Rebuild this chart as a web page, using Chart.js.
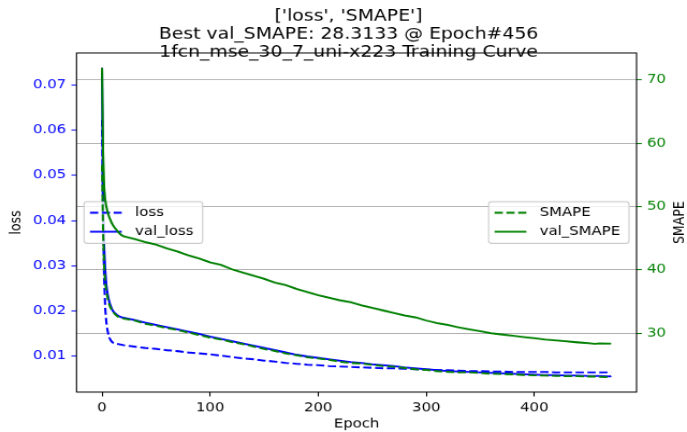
<!DOCTYPE html>
<html><head><meta charset="utf-8">
<script src="https://cdn.jsdelivr.net/npm/chart.js@4.4.1/dist/chart.umd.min.js"></script>
<style>html,body{margin:0;padding:0;background:#fff;overflow:hidden}</style>
</head><body>
<canvas id="c" width="640" height="480" style="display:block;width:687px;height:432px"></canvas>
<script>
const titleLines = ["['loss', 'SMAPE']", "Best val_SMAPE: 28.3133 @ Epoch#456", "1fcn_mse_30_7_uni-x223 Training Curve"];
const epochs = [0,1,2,3,4,5,6,7,8,9,10,12,14,16,18,20,30,40,50,60,70,80,90,100,110,120,130,140,150,160,170,180,190,200,210,220,230,240,250,260,270,280,290,300,310,320,330,340,350,360,370,380,390,400,410,420,430,440,450,456,460,470,471];
const loss = [0.0623,0.0400,0.0270,0.0205,0.0175,0.0158,0.0147,0.0140,0.0135,0.0132,0.0130,0.0128,0.0127,0.0126,0.0125,0.0124,0.0121,0.0118,0.0116,0.0113,0.0111,0.0108,0.0106,0.0104,0.0101,0.0098,0.0095,0.0093,0.0090,0.0088,0.0085,0.0083,0.0081,0.0080,0.0078,0.0077,0.0076,0.0075,0.0074,0.0073,0.0073,0.0072,0.0071,0.0070,0.0069,0.0069,0.0068,0.0067,0.0067,0.0066,0.0066,0.0065,0.0065,0.0065,0.0065,0.0064,0.0064,0.0064,0.0064,0.0064,0.0064,0.0064,0.0064];
const valLoss = [0.0738,0.0450,0.0340,0.0290,0.0258,0.0240,0.0228,0.0218,0.0211,0.0205,0.0200,0.0195,0.0191,0.0188,0.0186,0.0185,0.0180,0.0174,0.0169,0.0164,0.0159,0.0154,0.0149,0.0143,0.0138,0.0133,0.0128,0.0123,0.0118,0.0113,0.0108,0.0103,0.0099,0.0096,0.0093,0.0090,0.0087,0.0085,0.0082,0.0080,0.0078,0.0075,0.0073,0.0071,0.0069,0.0067,0.0066,0.0065,0.0064,0.0063,0.0062,0.0061,0.0060,0.0059,0.0058,0.0058,0.0057,0.0057,0.0056,0.0056,0.0056,0.0055,0.0056];
const smape = [56.6,46.0,40.5,38.0,36.6,35.7,35.0,34.4,34.0,33.7,33.4,33.0,32.7,32.5,32.4,32.3,32.0,31.5,31.2,30.8,30.5,30.1,29.7,29.3,29.0,28.6,28.3,27.9,27.5,27.2,26.8,26.5,26.2,26.0,25.8,25.5,25.3,25.2,25.0,24.8,24.7,24.5,24.3,24.2,24.0,23.9,23.8,23.8,23.7,23.6,23.55,23.5,23.4,23.35,23.3,23.25,23.2,23.2,23.15,23.15,23.1,23.05,23.05];
const valSmape = [71.9,58.5,53.0,51.0,50.0,49.3,48.7,48.2,47.8,47.4,47.1,46.6,46.2,45.8,45.5,45.3,44.9,44.4,44.0,43.4,42.9,42.3,41.8,41.2,40.8,40.1,39.6,39.1,38.6,38.0,37.6,37.0,36.5,36.0,35.6,35.2,34.9,34.4,34.0,33.6,33.2,32.8,32.5,32.0,31.6,31.3,30.9,30.6,30.3,30.0,29.8,29.6,29.4,29.2,29.0,28.85,28.7,28.55,28.42,28.3133,28.40,28.36,28.35];
const lossTicks = [0.01,0.02,0.03,0.04,0.05,0.06,0.07];
const smapeTicks = [30,40,50,60,70];
const epochTicks = [0,100,200,300,400];

const FONT = '"DejaVu Sans", "Liberation Sans", sans-serif';
const FS = 13.9;
const pts = arr => epochs.map((e,i)=>({x:e, y:arr[i]}));
const DASH = [7.7,3.3];

function drawLegend(ctx, x, y, w, h, items){
  ctx.save();
  ctx.beginPath();
  ctx.roundRect(x, y, w, h, 2.8);
  ctx.fillStyle = 'rgba(255,255,255,0.8)';
  ctx.fill();
  ctx.strokeStyle = '#cccccc';
  ctx.lineWidth = 1.1;
  ctx.stroke();
  const rows = [12.2, 33.3];
  items.forEach((it,i)=>{
    const cy = y + rows[i];
    ctx.beginPath();
    ctx.setLineDash(it.dash);
    ctx.strokeStyle = it.color;
    ctx.lineWidth = 2.08;
    ctx.moveTo(x+5.5, cy); ctx.lineTo(x+35.1, cy); ctx.stroke();
    ctx.setLineDash([]);
    ctx.fillStyle = '#000';
    ctx.font = FS + 'px ' + FONT;
    ctx.textBaseline = 'middle';
    ctx.textAlign = 'left';
    ctx.fillText(it.label, x+47.5, cy);
  });
  ctx.restore();
}
function legendItems(chart, idx){
  return idx.map(i=>{const d=chart.data.datasets[i]; return {label:d.label, color:d.borderColor, dash:d.borderDash||[]};});
}

const extras = {
  id:'extras',
  afterLayout(chart){
    if (chart.titleBlock){ chart.titleBlock.left += 9.4; }
  },
  beforeDatasetDraw(chart, args){
    if (args.index === 2){
      const a = chart.chartArea;
      const h = 46.2, mid = (a.top+a.bottom)/2;
      drawLegend(chart.ctx, a.left+7, mid-h/2, 110.5, h, legendItems(chart,[0,1]));
    }
  },
  afterDatasetsDraw(chart){
    const ctx = chart.ctx, a = chart.chartArea;
    ctx.save();
    ctx.strokeStyle = '#000';
    ctx.lineWidth = 1.1;
    ctx.strokeRect(a.left, a.top, a.right-a.left, a.bottom-a.top);
    ctx.restore();
    const h = 46.2, mid = (a.top+a.bottom)/2, w = 130.8;
    drawLegend(ctx, a.right-7-w, mid-h/2, w, h, legendItems(chart,[2,3]));
    ctx.save();
    ctx.translate(633.5, mid);
    ctx.rotate(-Math.PI/2);
    ctx.fillStyle = '#000';
    ctx.font = FS + 'px ' + FONT;
    ctx.textAlign = 'center';
    ctx.textBaseline = 'middle';
    ctx.fillText('SMAPE', 0, 0);
    ctx.restore();
  }
};

new Chart(document.getElementById('c'), {
  type:'line',
  data:{datasets:[
    {label:'loss', data:pts(loss), yAxisID:'yL', borderColor:'#0000ff', borderDash:DASH, order:4},
    {label:'val_loss', data:pts(valLoss), yAxisID:'yL', borderColor:'#0000ff', order:3},
    {label:'SMAPE', data:pts(smape), yAxisID:'yR', borderColor:'#008000', borderDash:DASH, order:2},
    {label:'val_SMAPE', data:pts(valSmape), yAxisID:'yR', borderColor:'#008000', order:1}
  ]},
  options:{
    responsive:false, animation:false, devicePixelRatio:1,
    layout:{padding:0},
    elements:{line:{borderWidth:2.08, tension:0, fill:false}, point:{radius:0}},
    plugins:{
      legend:{display:false}, tooltip:{enabled:false},
      title:{display:true, text:titleLines, color:'#000',
        font:{family:FONT, size:17.55, weight:'normal', lineHeight:1.157},
        padding:{top:8.15, bottom:-10.15}}
    },
    scales:{
      x:{type:'linear', position:'bottom', min:-23.55, max:494.55,
        afterBuildTicks:s=>{s.ticks = epochTicks.map(v=>({value:v}));},
        ticks:{color:'#000', font:{family:FONT,size:FS}, padding:4.86, maxRotation:0, autoSkip:false, callback:v=>String(v)},
        grid:{drawOnChartArea:false, drawTicks:true, tickLength:4.86, tickColor:'#000', tickWidth:1.1},
        border:{display:false},
        title:{display:true, text:'Epoch', color:'#000', font:{family:FONT,size:FS,lineHeight:1.2}, padding:{top:0,bottom:0.7}},
        afterFit:s=>{s.height = 480-435.6;}
      },
      yL:{type:'linear', position:'left', min:0.00204, max:0.07708,
        afterBuildTicks:s=>{s.ticks = lossTicks.map(v=>({value:v}));},
        ticks:{color:'#0000ff', font:{family:FONT,size:FS}, padding:4.86, callback:v=>v.toFixed(2)},
        grid:{drawOnChartArea:false, drawTicks:true, tickLength:4.86, tickColor:'#0000ff', tickWidth:1.1},
        border:{display:false},
        title:{display:true, text:'loss', color:'#000', font:{family:FONT,size:FS,lineHeight:1.2}, padding:{top:7.5,bottom:0}},
        afterFit:s=>{s.width = 71.3;}
      },
      yR:{type:'linear', position:'right', min:20.7, max:74.26,
        afterBuildTicks:s=>{s.ticks = smapeTicks.map(v=>({value:v}));},
        ticks:{color:'#008000', font:{family:FONT,size:FS}, padding:4.86, callback:v=>String(v)},
        grid:{drawOnChartArea:true, color:'#b0b0b0', lineWidth:1.1, drawTicks:true, tickLength:4.86, tickColor:'#008000', tickWidth:1.1},
        border:{display:false},
        afterFit:s=>{s.width = 47;}
      }
    }
  },
  plugins:[extras]
});
</script>
</body></html>
